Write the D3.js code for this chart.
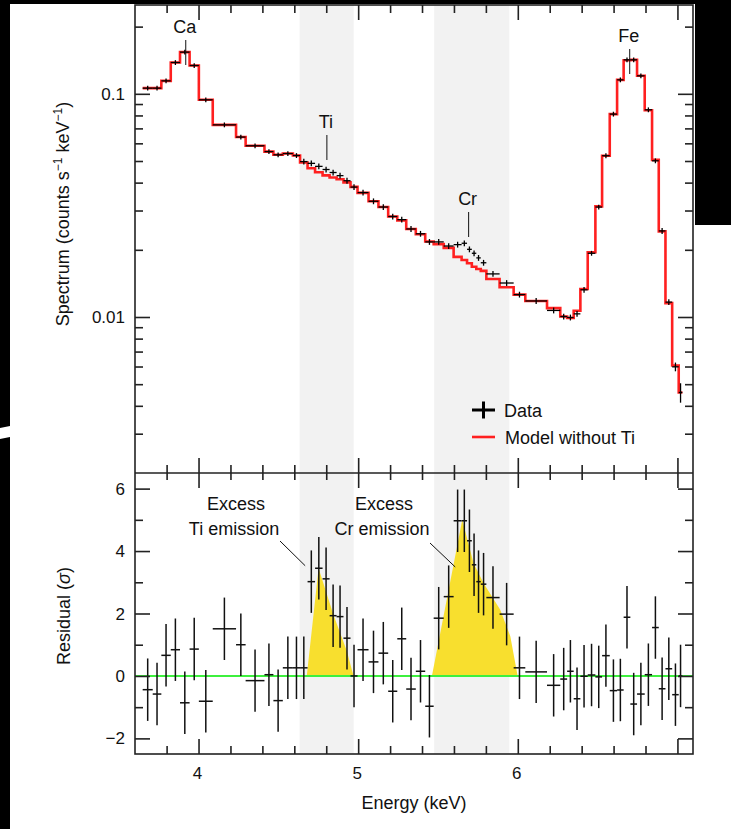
<!DOCTYPE html>
<html><head><meta charset="utf-8">
<script src="https://cdn.jsdelivr.net/npm/d3@7"></script>
<style>
body{margin:0;background:#fff}
svg{display:block}
text{font-family:"Liberation Sans",Arial,Helvetica,sans-serif;fill:#111}
</style>
</head><body>
<svg id="c" width="731" height="829"></svg>
<script>
// ---------------- DATA ----------------
// spectral bin edges (keV)
const binEdges = [3.650, 3.713, 3.767, 3.826, 3.884, 3.944, 4.002, 4.089, 4.235, 4.295, 4.413, 4.469, 4.528, 4.591, 4.636, 4.683, 4.730, 4.777, 4.821, 4.865, 4.908, 4.952, 4.996, 5.065, 5.127, 5.188, 5.245, 5.301, 5.361, 5.420, 5.473, 5.536, 5.598, 5.648, 5.682, 5.712, 5.740, 5.768, 5.803, 5.886, 5.974, 6.047, 6.183, 6.266, 6.309, 6.350, 6.392, 6.438, 6.486, 6.528, 6.576, 6.622, 6.663, 6.705, 6.747, 6.795, 6.841, 6.883, 6.925, 6.967, 7.008, 7.031];
// observed spectrum (counts s^-1 keV^-1)
const specData = [0.1060, 0.1060, 0.1143, 0.1381, 0.1537, 0.1339, 0.0940, 0.0726, 0.0640, 0.0585,
  0.0551, 0.0533, 0.0540, 0.0529, 0.0497, 0.0488, 0.0473, 0.0458, 0.0444, 0.0430,
  0.0408, 0.0382, 0.0361, 0.0330, 0.0311, 0.0282, 0.0273, 0.0248, 0.0236, 0.0217,
  0.0217, 0.0208, 0.0211, 0.0214, 0.0201, 0.0193, 0.0184, 0.0175, 0.0156, 0.0142,
  0.0126, 0.0118, 0.0107, 0.01005, 0.00995, 0.01033, 0.01324, 0.0193, 0.0311, 0.0528,
  0.0811, 0.1155, 0.1420, 0.1420, 0.1204, 0.0848, 0.0501, 0.0243, 0.01166, 0.00598,
  0.00459];
// relative 1-sigma errors on the spectrum
const specErr = [0.025, 0.025, 0.025, 0.025, 0.025, 0.025, 0.025, 0.025, 0.025, 0.025,
  0.025, 0.025, 0.025, 0.025, 0.03, 0.03, 0.03, 0.03, 0.03, 0.03,
  0.03, 0.03, 0.03, 0.03, 0.03, 0.03, 0.03, 0.03, 0.03, 0.03,
  0.03, 0.03, 0.03, 0.03, 0.03, 0.03, 0.03, 0.03, 0.03, 0.03,
  0.03, 0.03, 0.03, 0.03, 0.03, 0.03, 0.03, 0.025, 0.025, 0.025,
  0.025, 0.025, 0.025, 0.025, 0.025, 0.025, 0.025, 0.03, 0.03, 0.045,
  0.1];
// model without Ti (counts s^-1 keV^-1)
const modelNoTi = [0.1060, 0.1060, 0.1143, 0.1381, 0.1537, 0.1339, 0.0940, 0.0726, 0.0640, 0.0585,
  0.0551, 0.0533, 0.0540, 0.0529, 0.0492, 0.0464, 0.0445, 0.0431, 0.0422, 0.0414,
  0.0401, 0.0383, 0.0360, 0.0330, 0.0311, 0.0282, 0.0271, 0.0248, 0.0235, 0.0218,
  0.0212, 0.0204, 0.0186, 0.0180, 0.0174, 0.0168, 0.0164, 0.0161, 0.0148, 0.0136,
  0.0126, 0.0118, 0.01096, 0.01005, 0.00989, 0.01066, 0.01334, 0.0195, 0.0313, 0.0528,
  0.0811, 0.1155, 0.1413, 0.1420, 0.1204, 0.0844, 0.0506, 0.0242, 0.01154, 0.00606,
  0.00459];
// residuals (sigma), each with a 1-sigma error
const residual = [-0.44, -0.58, 0.66, 0.84, -0.86, 0.86, -0.81, 1.51, 1.0, -0.15,
  0.04, -0.79, 0.26, 0.26, 0.26, 3.02, 3.45, 3.11, 1.93, 1.9,
  1.21, 0.0, 0.84, 0.45, 0.73, -0.49, 1.19, -0.42, 0.15, -0.97,
  1.85, 2.54, 4.97, 4.97, 4.33, 3.56, 3.02, 2.94, 2.51, 1.98,
  0.26, 0.13, -0.30, -0.1, 0.15, -0.73, -0.01, 0.03, -0.03, 0.65,
  -0.47, -0.45, 1.88, -0.9, -0.58, 0.04, 1.55, -0.41, 0.23, -0.6,
  0.0];
const residSigma = 1;
// excess-emission profiles (keV, sigma)
const tiExcessE = [4.678, 4.752, 4.845, 4.929, 4.971];
const tiExcessR = [0, 3.45, 1.96, 0.8, 0];
const crExcessE = [5.462, 5.652, 5.723, 5.786, 5.890, 5.953, 5.999];
const crExcessR = [0, 5.0, 3.61, 2.97, 2.12, 1.27, 0];
// highlighted energy bands (keV)
const bandLo = [4.633, 5.476];
const bandHi = [4.972, 5.947];
// line identifications
const lineNames = ["Ca", "Ti", "Cr", "Fe"];
const lineE = [3.920, 4.804, 5.692, 6.701];
// ticks
const xMajorTicks = [4, 5, 6, 7];
const xMinorTicks = [3.8, 4.2, 4.4, 4.6, 4.8, 5.2, 5.4, 5.6, 5.8, 6.2, 6.4, 6.6, 6.8];
const xTickLabels = [4, 5, 6];
const ySpecMajor = [0.01, 0.1];
const ySpecMinor = [0.003, 0.004, 0.005, 0.006, 0.007, 0.008, 0.009, 0.02, 0.03, 0.04, 0.05, 0.06, 0.07, 0.08, 0.09, 0.2];
const ySpecLabels = ["0.01", "0.1"];
const yResMajor = [-2, 0, 2, 4, 6];
const yResMinor = [-1, 1, 3, 5];

// ---------------- LAYOUT ----------------
const W = 731, H = 829;
const L = 135, R = 693, T = 5, M = 473, B = 754;
const svg = d3.select("#c");
const x = d3.scaleLinear().domain([3.602, 7.0975]).range([L, R]);
const yS = d3.scaleLog().domain([0.002, 0.25]).range([M, T]);
const yR = d3.scaleLinear().domain([-2.5, 6.5]).range([B, M]);

svg.append("rect").attr("width", W).attr("height", H).attr("fill", "#fff");

// gray bands
svg.selectAll("rect.band").data(d3.range(bandLo.length)).join("rect")
  .attr("class", "band")
  .attr("x", i => x(bandLo[i])).attr("y", T)
  .attr("width", i => x(bandHi[i]) - x(bandLo[i])).attr("height", B - T)
  .attr("fill", "#f2f2f2");

// yellow excess areas
const area = d3.area().x(d => x(d[0])).y0(yR(0)).y1(d => yR(d[1]));
svg.append("path").datum(d3.zip(tiExcessE, tiExcessR)).attr("d", area).attr("fill", "#f8df2e");
svg.append("path").datum(d3.zip(crExcessE, crExcessR)).attr("d", area).attr("fill", "#f8df2e");

// zero line
svg.append("line").attr("x1", L).attr("x2", R).attr("y1", yR(0)).attr("y2", yR(0))
  .attr("stroke", "#3ef03e").attr("stroke-width", 2);

// model step line
const stepPts = [];
modelNoTi.forEach((m, i) => { stepPts.push([binEdges[i], m], [binEdges[i + 1], m]); });
svg.append("path")
  .attr("d", d3.line().x(d => x(d[0])).y(d => yS(d[1]))(stepPts))
  .attr("fill", "none").attr("stroke", "#ff2020").attr("stroke-width", 2.6);

// data crosses
const gD = svg.append("g").attr("stroke", "#000").attr("stroke-width", 1.3);
specData.forEach((v, i) => {
  const xc = x((binEdges[i] + binEdges[i + 1]) / 2);
  gD.append("line").attr("x1", x(binEdges[i])).attr("x2", x(binEdges[i + 1]))
    .attr("y1", yS(v)).attr("y2", yS(v));
  gD.append("line").attr("x1", xc).attr("x2", xc)
    .attr("y1", yS(v * (1 - specErr[i]))).attr("y2", yS(v * (1 + specErr[i])));
});

// residual crosses
const gR = svg.append("g").attr("stroke", "#111").attr("stroke-width", 1.5);
residual.forEach((r, i) => {
  const xc = x((binEdges[i] + binEdges[i + 1]) / 2);
  gR.append("line").attr("x1", x(binEdges[i])).attr("x2", x(binEdges[i + 1]))
    .attr("y1", yR(r)).attr("y2", yR(r));
  gR.append("line").attr("x1", xc).attr("x2", xc)
    .attr("y1", yR(r - residSigma)).attr("y2", yR(r + residSigma));
});

// frame
svg.append("rect").attr("x", L).attr("y", T).attr("width", R - L).attr("height", B - T)
  .attr("fill", "none").attr("stroke", "#222").attr("stroke-width", 1.6);
svg.append("line").attr("x1", L).attr("x2", R).attr("y1", M).attr("y2", M)
  .attr("stroke", "#222").attr("stroke-width", 1.6);

// ticks (inward) via d3 axes
function ticks(gen, tx, ty) {
  const g = svg.append("g").attr("transform", `translate(${tx},${ty})`).call(gen);
  g.select(".domain").remove();
  g.selectAll("text").remove();
  g.selectAll("line").attr("stroke", "#222").attr("stroke-width", 1.6);
}
// x ticks
ticks(d3.axisTop(x).tickValues(xMinorTicks).tickSize(-8), 0, T);
ticks(d3.axisTop(x).tickValues(xMajorTicks).tickSize(-15), 0, T);
ticks(d3.axisBottom(x).tickValues(xMinorTicks).tickSize(-8), 0, M);
ticks(d3.axisBottom(x).tickValues(xMajorTicks).tickSize(-15), 0, M);
ticks(d3.axisTop(x).tickValues(xMinorTicks).tickSize(-7), 0, M);
ticks(d3.axisTop(x).tickValues(xMajorTicks).tickSize(-15), 0, M);
ticks(d3.axisBottom(x).tickValues(xMinorTicks).tickSize(-8), 0, B);
ticks(d3.axisBottom(x).tickValues(xMajorTicks).tickSize(-15), 0, B);
// spectrum y ticks
ticks(d3.axisLeft(yS).tickValues(ySpecMinor).tickSize(-8), L, 0);
ticks(d3.axisLeft(yS).tickValues(ySpecMajor).tickSize(-15), L, 0);
ticks(d3.axisRight(yS).tickValues(ySpecMinor).tickSize(-8), R, 0);
ticks(d3.axisRight(yS).tickValues(ySpecMajor).tickSize(-15), R, 0);
// residual y ticks
ticks(d3.axisLeft(yR).tickValues(yResMinor).tickSize(-8), L, 0);
ticks(d3.axisLeft(yR).tickValues(yResMajor).tickSize(-15), L, 0);
ticks(d3.axisRight(yR).tickValues(yResMinor).tickSize(-8), R, 0);
ticks(d3.axisRight(yR).tickValues(yResMajor).tickSize(-15), R, 0);

// tick labels
const fs = 17;
xTickLabels.forEach(v => {
  svg.append("text").attr("x", x(v) - 1).attr("y", 779).attr("text-anchor", "middle")
    .attr("font-size", fs).text(v);
});
ySpecMajor.forEach((v, i) => {
  svg.append("text").attr("x", 125).attr("y", yS(v) + 6).attr("text-anchor", "end")
    .attr("font-size", fs).text(ySpecLabels[i]);
});
yResMajor.forEach(v => {
  svg.append("text").attr("x", 125).attr("y", yR(v) + 6).attr("text-anchor", "end")
    .attr("font-size", fs).text(v < 0 ? "\u2212" + Math.abs(v) : String(v));
});

// axis titles
svg.append("text").attr("x", (L + R) / 2).attr("y", 809).attr("text-anchor", "middle")
  .attr("font-size", 18).text("Energy (keV)");
const t1 = svg.append("text").attr("transform", "translate(69,214) rotate(-90)")
  .attr("text-anchor", "middle").attr("font-size", 18);
t1.append("tspan").text("Spectrum (counts s");
t1.append("tspan").attr("dy", -7).attr("font-size", 12).text("\u22121");
t1.append("tspan").attr("dy", 7).text(" keV");
t1.append("tspan").attr("dy", -7).attr("font-size", 12).text("\u22121");
t1.append("tspan").attr("dy", 7).text(")");
const t2 = svg.append("text").attr("transform", "translate(70,616) rotate(-90)")
  .attr("text-anchor", "middle").attr("font-size", 18);
t2.append("tspan").text("Residual (");
t2.append("tspan").attr("font-style", "italic").text("\u03c3");
t2.append("tspan").text(")");

// line identifications
const labelBase = [33, 128, 205, 42];
lineNames.forEach((n, i) => {
  const xc = x(lineE[i]);
  svg.append("text").attr("x", xc - 1).attr("y", labelBase[i]).attr("text-anchor", "middle")
    .attr("font-size", 18).text(n);
  svg.append("line").attr("x1", xc).attr("x2", xc)
    .attr("y1", labelBase[i] + 7).attr("y2", labelBase[i] + 32)
    .attr("stroke", "#111").attr("stroke-width", 1);
});

// excess annotations
function annot(cx, lines, lx1, ly1, eEnd, rEnd) {
  svg.append("text").attr("x", cx).attr("y", 510).attr("text-anchor", "middle")
    .attr("font-size", 18).text(lines[0]);
  svg.append("text").attr("x", cx - 2).attr("y", 535).attr("text-anchor", "middle")
    .attr("font-size", 18).text(lines[1]);
  svg.append("line").attr("x1", lx1).attr("y1", ly1).attr("x2", x(eEnd)).attr("y2", yR(rEnd))
    .attr("stroke", "#111").attr("stroke-width", 1);
}
annot(236, ["Excess", "Ti emission"], 280, 541, 4.668, 3.53);
annot(384, ["Excess", "Cr emission"], 430, 543, 5.608, 3.49);

// legend
const lg = svg.append("g");
lg.append("line").attr("x1", 472).attr("x2", 495).attr("y1", 410).attr("y2", 410)
  .attr("stroke", "#000").attr("stroke-width", 3);
lg.append("line").attr("x1", 483.5).attr("x2", 483.5).attr("y1", 401.5).attr("y2", 418.5)
  .attr("stroke", "#000").attr("stroke-width", 3);
lg.append("text").attr("x", 504).attr("y", 417).attr("font-size", 18).text("Data");
lg.append("line").attr("x1", 472).attr("x2", 495).attr("y1", 437).attr("y2", 437)
  .attr("stroke", "#ff2020").attr("stroke-width", 2.6);
lg.append("text").attr("x", 505).attr("y", 444).attr("font-size", 18).text("Model without Ti");

// photo border
svg.append("rect").attr("x", 0).attr("y", 0).attr("width", W).attr("height", 4).attr("fill", "#000");
svg.append("polygon").attr("points", "0,0 10,0 10,426 0,428").attr("fill", "#000");
svg.append("polygon").attr("points", "0,439 10,437 10,829 0,829").attr("fill", "#000");
svg.append("rect").attr("x", 695).attr("y", 0).attr("width", 36).attr("height", 225).attr("fill", "#000");
</script>
</body></html>
